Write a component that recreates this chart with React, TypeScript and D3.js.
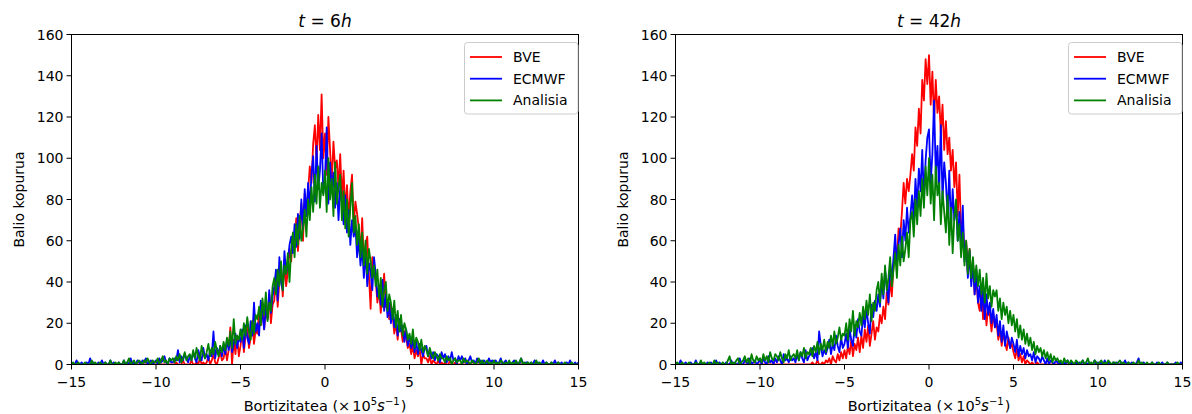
import React from 'react';
import * as d3 from 'd3';

// Histogram bins: x = X_START + i * BIN_WIDTH (i = 0..300)
const X_START = -15;
const BIN_WIDTH = 0.1;

const xTicks = [-15, -10, -5, 0, 5, 10, 15];
const yTicks = [0, 20, 40, 60, 80, 100, 120, 140, 160];
const seriesNames = ['BVE', 'ECMWF', 'Analisia'];
const seriesColors = ['#ff0000', '#0000ff', '#008000'];
const panelTitles = ['6', '42'];

// ---- t = 6h ----
const L_BVE = [
  0,0,0,0,0,0,0,0,0,0, 0,0,0,0,0,0,0,0,0,0, 0,0,0,0,0,0,0,0,0,0,
  0,0,0,0,0,0,0,0,0,0, 0,0,0,0,0,0,0,0,0,0, 0,0,0,0,0,0,0,0,0,0,
  0,0,1,0,0,0,2,0,0,0,
  0,2,0,0,1,0,3,0,1,0,
  1,4,0,2,5,1,0,3,6,2,
  3,8,2,7,18,0,12,5,14,4,
  9,16,6,14,19,8,13,21,10,17,
  15,26,19,30,17,27,22,34,20,29,
  31,43,28,40,47,33,51,38,45,56,
  50,63,57,71,55,68,78,60,83,74,
  84,96,88,107,116,98,121,104,131,100,
  112,92,120,104,88,108,95,99,86,102,
  80,94,74,87,70,84,92,68,79,73,
  66,54,71,49,58,62,43,27,52,45,
  41,30,37,25,35,44,28,31,22,29,
  24,15,20,12,22,17,11,16,13,8,
  10,5,9,3,7,4,8,0,5,3,
  3,1,4,0,2,1,0,2,0,1,
  0,1,0,0,2,0,0,1,0,0,
  0,0,0,0,0,1,0,0,0,0,
  0,0,0,0,0,0,0,0,0,0, 0,0,0,0,0,0,0,0,0,0, 0,0,0,0,0,0,0,0,0,0,
  0,0,0,0,0,0,0,0,0,0, 0,0,0,0,0,0,0,0,0,0, 0,0,0,0,0,0,0,0,0,0,
  0,
];

const L_ECMWF = [
  1,0,0,2,0,0,1,0,0,1,
  0,3,0,1,0,0,1,0,2,0,
  1,0,0,2,0,1,0,0,1,0,
  0,2,0,1,0,3,0,1,0,2,
  1,0,2,1,3,0,1,2,0,1,
  2,0,3,1,2,4,1,0,3,1,
  1,3,2,7,1,4,2,5,3,1,
  4,2,6,3,1,7,4,2,8,3,
  5,2,7,4,16,3,8,5,9,4,
  9,5,12,7,14,6,10,15,8,13,
  11,17,8,19,13,10,21,14,30,16,
  20,14,31,24,17,28,22,36,25,33,
  38,46,31,52,40,36,55,44,49,58,
  62,54,68,57,73,61,80,66,85,72,
  88,76,92,101,79,106,85,94,112,83,
  90,115,78,98,84,93,76,88,70,86,
  79,68,82,64,75,58,70,62,67,52,
  61,48,57,42,55,38,49,45,36,52,
  44,33,38,29,41,26,34,23,30,20,
  27,18,24,14,22,16,19,11,17,9,
  14,8,12,6,11,5,10,7,4,8,
  9,4,7,3,6,2,5,4,1,6,
  3,5,1,4,2,6,2,3,0,4,
  2,4,1,3,0,2,4,1,2,0,
  3,1,2,0,2,1,0,3,1,2,
  1,2,0,1,3,0,1,2,0,1,
  0,1,2,0,1,0,3,1,0,1,
  1,0,1,0,2,0,1,0,0,2,
  0,1,0,0,1,0,2,0,1,0,
  1,0,0,1,0,2,0,0,1,0,
  1,
];

const L_ANALISIA = [
  0,1,0,0,1,0,0,0,1,0,
  0,0,2,0,1,0,0,1,0,0,
  1,0,0,2,0,0,1,0,1,0,
  0,2,0,1,3,0,1,2,0,1,
  2,1,0,2,1,3,1,0,2,1,
  1,3,0,2,4,1,2,0,3,2,
  3,1,4,2,5,1,3,6,2,4,
  5,2,7,3,8,4,2,9,5,3,
  6,10,4,8,5,11,7,4,9,6,
  11,7,13,9,16,8,22,10,14,12,
  17,12,20,14,23,16,12,21,15,24,
  22,28,19,32,24,35,21,30,26,38,
  42,34,46,38,50,36,48,44,54,40,
  56,64,52,68,58,72,60,66,75,62,
  80,70,86,74,92,78,96,76,88,82,
  94,74,100,80,90,72,98,78,86,92,
  70,84,66,80,62,76,88,64,72,58,
  68,52,64,48,60,44,56,50,42,48,
  38,46,32,42,28,36,40,26,34,30,
  22,31,18,26,16,24,14,20,17,12,
  15,10,17,8,13,11,7,12,6,9,
  7,4,8,5,3,6,4,2,5,3,
  3,1,4,2,3,0,2,3,1,2,
  2,0,3,1,2,1,0,2,1,0,
  1,3,0,2,0,1,2,0,1,0,
  2,0,1,0,2,1,0,1,0,2,
  0,1,0,2,0,1,3,0,1,0,
  1,0,1,0,0,2,0,1,0,0,
  0,1,0,0,1,0,0,0,1,0,
  0,0,1,0,0,0,1,0,0,0,
  0,
];

// ---- t = 42h ----
const R_BVE = [
  0,0,0,0,0,0,0,0,0,0, 0,0,0,0,0,0,0,0,0,0, 0,0,0,0,0,0,0,0,0,0,
  0,0,0,0,0,0,0,0,0,0, 0,0,0,0,0,0,0,0,0,0, 0,0,0,0,0,0,0,0,0,0,
  0,0,0,0,0,0,0,0,0,0, 0,0,0,0,0,0,0,0,0,0,
  0,1,0,0,2,0,0,1,0,2,
  1,3,0,4,2,1,5,2,6,3,
  7,3,9,5,12,4,10,7,13,6,
  14,8,17,11,19,9,15,21,12,18,
  16,24,20,28,22,35,29,41,33,48,
  58,50,66,62,74,88,78,90,84,92,
  102,94,115,106,124,112,138,128,148,136,
  150,126,142,118,138,122,130,112,126,104,
  118,102,110,94,104,86,98,72,92,64,
  70,52,60,44,56,40,50,34,42,30,
  26,36,22,31,19,28,24,16,25,18,
  20,12,17,9,15,11,7,13,8,10,
  6,3,8,2,5,1,4,0,2,1,
  0,1,0,0,1,0,0,0,0,0,
  0,0,0,0,0,0,0,0,0,0, 0,0,0,0,0,0,0,0,0,0, 0,0,0,0,0,0,0,0,0,0,
  0,0,0,0,0,0,0,0,0,0, 0,0,0,0,0,0,0,0,0,0, 0,0,0,0,0,0,0,0,0,0,
  0,0,0,0,0,0,0,0,0,0, 0,0,0,0,0,0,0,0,0,0,
  0,
];

const R_ECMWF = [
  1,0,0,2,0,0,1,0,0,1,
  0,0,2,0,0,1,0,0,0,1,
  0,1,0,0,2,0,1,0,0,0,
  1,0,0,2,0,1,0,0,3,0,
  0,2,1,0,3,0,1,2,0,1,
  2,0,3,1,0,4,1,2,0,3,
  1,4,2,0,5,2,3,1,4,2,
  3,1,5,2,6,3,1,7,2,4,
  5,8,3,6,2,16,9,4,7,5,
  8,12,5,10,7,14,9,6,13,8,
  10,15,8,17,12,9,19,13,22,16,
  14,24,18,27,20,15,29,23,31,26,
  34,28,41,32,46,38,30,49,40,52,
  63,48,58,66,52,70,60,76,64,72,
  82,70,90,76,95,84,104,80,99,110,
  114,88,102,128,92,106,84,116,80,98,
  88,72,94,66,85,70,78,60,74,56,
  77,50,58,42,55,38,50,34,46,30,
  38,26,36,22,34,24,30,20,27,18,
  24,14,21,11,19,9,16,12,8,13,
  10,6,12,4,9,5,8,3,7,4,
  5,2,6,1,4,3,1,4,2,0,
  3,0,2,1,0,2,1,0,1,0,
  1,0,2,0,1,0,0,1,0,1,
  0,2,0,1,0,1,0,0,2,0,
  1,0,1,0,2,0,1,0,0,1,
  0,1,0,0,1,0,2,0,1,0,
  1,0,0,1,3,0,0,1,0,0,
  0,0,1,0,0,1,0,0,1,0,
  0,1,0,0,0,0,1,0,0,1,
  0,
];

const R_ANALISIA = [
  0,1,0,0,1,0,0,0,1,0,
  0,0,1,0,0,2,0,1,0,0,
  1,0,0,2,0,1,0,0,1,0,
  0,2,4,0,1,0,2,3,0,1,
  2,4,1,3,0,5,2,1,4,2,
  3,1,5,2,4,1,6,3,2,5,
  4,2,6,3,1,5,3,7,2,4,
  5,3,7,2,6,4,8,3,6,5,
  8,4,9,6,11,5,10,7,12,6,
  11,8,14,9,16,10,13,18,12,15,
  14,20,12,22,16,26,14,21,18,25,
  19,28,22,31,24,34,21,30,26,36,
  40,30,44,34,48,36,42,52,38,46,
  54,42,58,48,62,50,56,64,52,70,
  74,62,80,68,84,72,90,76,96,82,
  100,78,92,70,96,82,88,68,84,74,
  64,82,58,76,54,72,80,60,68,52,
  64,48,60,44,56,42,52,40,48,38,
  46,34,42,30,44,32,38,28,36,33,
  36,26,32,22,30,24,28,20,26,19,
  24,16,22,13,19,12,17,10,15,9,
  13,7,11,5,9,6,8,4,7,3,
  6,2,5,1,4,2,3,1,2,0,
  3,1,2,0,2,1,0,2,1,0,
  1,2,0,1,3,0,1,0,2,1,
  0,1,2,0,1,0,2,1,0,1,
  1,0,1,2,0,1,0,0,1,0,
  0,1,0,0,2,0,1,0,0,1,
  0,0,1,0,0,0,1,0,0,0,
  0,1,0,0,0,0,0,1,0,0,
  0,
];

const panelSeries = [
  [L_BVE, L_ECMWF, L_ANALISIA],
  [R_BVE, R_ECMWF, R_ANALISIA],
];

const FONT = '"DejaVu Sans", sans-serif';
const TOP = 34.5;
const WIDTH = 507;
const HEIGHT = 330;
const PANEL_LEFTS = [71.5, 675.5];

function fmt(v: number) {
  return v < 0 ? '\u2212' + Math.abs(v) : String(v);
}

function Panel({ idx }: { idx: number }) {
  const left = PANEL_LEFTS[idx];
  const x = d3.scaleLinear().domain([-15, 15]).range([left, left + WIDTH]);
  const y = d3.scaleLinear().domain([0, 160]).range([TOP + HEIGHT, TOP]);
  const line = d3
    .line<number>()
    .x((_, i) => x(X_START + i * BIN_WIDTH))
    .y((d) => y(d));
  const clipId = `clip${idx}`;
  const cx = left + WIDTH / 2;
  const legX = left + WIDTH - 114;
  const legY = 42.5;
  return (
    <g fontFamily={FONT}>
      <defs>
        <clipPath id={clipId}>
          <rect x={left} y={TOP} width={WIDTH} height={HEIGHT} />
        </clipPath>
      </defs>
      <g clipPath={`url(#${clipId})`}>
        {panelSeries[idx].map((s, k) => (
          <path
            key={k}
            d={line(s) || ''}
            fill="none"
            stroke={seriesColors[k]}
            strokeWidth={1.8}
            strokeLinejoin="round"
          />
        ))}
      </g>
      <rect x={left} y={TOP} width={WIDTH} height={HEIGHT} fill="none" stroke="#000" strokeWidth={1} />
      {xTicks.map((t) => (
        <g key={t}>
          <line x1={x(t)} x2={x(t)} y1={TOP + HEIGHT} y2={TOP + HEIGHT + 5} stroke="#000" strokeWidth={1} />
          <text x={x(t)} y={TOP + HEIGHT + 22} textAnchor="middle" fontSize={14} fill="#000">
            {fmt(t)}
          </text>
        </g>
      ))}
      {yTicks.map((t) => (
        <g key={t}>
          <line x1={left - 5} x2={left} y1={y(t)} y2={y(t)} stroke="#000" strokeWidth={1} />
          <text x={left - 8} y={y(t) + 5} textAnchor="end" fontSize={14} fill="#000">
            {t}
          </text>
        </g>
      ))}
      <text x={cx} y={27} textAnchor="middle" fontSize={17} fill="#000">
        <tspan fontStyle="italic">t</tspan>
        <tspan> = {panelTitles[idx]}</tspan>
        <tspan fontStyle="italic">h</tspan>
      </text>
      <text x={cx} y={411} textAnchor="middle" fontSize={14.5} fill="#000">
        <tspan>Bortizitatea (</tspan>
        <tspan>×</tspan>
        <tspan dx={2}>10</tspan>
        <tspan dy={-6} fontSize={10}>5</tspan>
        <tspan dy={6} fontStyle="italic" fontSize={15}>s</tspan>
        <tspan dy={-6} fontSize={10}>−1</tspan>
        <tspan dy={6} dx={1}>)</tspan>
      </text>
      <text
        transform={`translate(${left - 48},${TOP + HEIGHT / 2}) rotate(-90)`}
        textAnchor="middle"
        fontSize={14}
        fill="#000"
      >
        Balio kopurua
      </text>
      <rect x={legX} y={legY} width={113.5} height={71.5} rx={3} fill="#fff" fillOpacity={0.8} stroke="#cccccc" strokeWidth={1} />
      {seriesNames.map((n, k) => (
        <g key={n}>
          <line x1={legX + 5.5} x2={legX + 37.5} y1={legY + 14.5 + k * 21.7} y2={legY + 14.5 + k * 21.7} stroke={seriesColors[k]} strokeWidth={1.8} />
          <text x={legX + 48.5} y={legY + 14.5 + k * 21.7 + 5} fontSize={14} fill="#000">
            {n}
          </text>
        </g>
      ))}
    </g>
  );
}

export default function App() {
  return (
    <svg width={1192} height={414} style={{ position: 'absolute', left: 0, top: 0, background: '#fff' }}>
      <rect width={1192} height={414} fill="#fff" />
      <Panel idx={0} />
      <Panel idx={1} />
    </svg>
  );
}
